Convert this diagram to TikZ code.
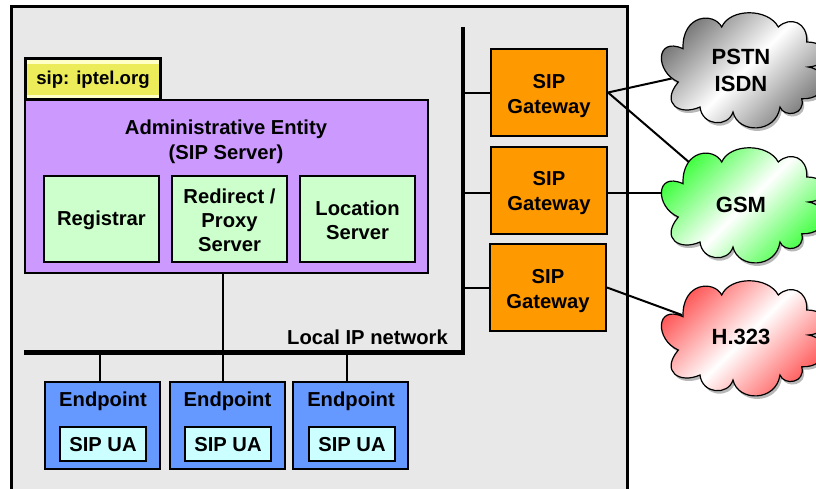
\documentclass[tikz,border=0pt]{standalone}
\usepackage{fontspec}
\setmainfont{Liberation Sans}
\definecolor{panelgrey}{HTML}{E8E8E8}
\definecolor{tagyellow}{HTML}{ECEC5A}
\definecolor{taglight}{HTML}{FFFFC8}
\definecolor{entitypurple}{HTML}{CC99FF}
\definecolor{servergreen}{HTML}{CCFFCC}
\definecolor{gatewayorange}{HTML}{FF9900}
\definecolor{endpointblue}{HTML}{6699FF}
\definecolor{uacyan}{HTML}{CCFFFF}
\definecolor{cloudgrey}{HTML}{707070}
\definecolor{cloudgreen}{HTML}{33FF33}
\definecolor{cloudred}{HTML}{FF4D4D}
\newcommand{\labelfont}{\fontsize{20.2}{24}\selectfont\bfseries}
\newcommand{\cloudoutline}{(683,48.7)
    .. controls (682,14) and (714,12) .. (721.7,27)
    .. controls (730,8) and (768,8) .. (778.3,27)
    .. controls (790,16) and (808,22) .. (806.7,42)
    .. controls (832,42) and (830,66) .. (808.3,67)
    .. controls (830,70) and (830,100) .. (801.7,98.7)
    .. controls (806,115) and (784,118) .. (780,107)
    .. controls (776,134) and (738,134) .. (733,112)
    .. controls (728,128) and (702,126) .. (700,107)
    .. controls (680,116) and (660,104) .. (678.3,82)
    .. controls (655,72) and (655,36) .. (683,48.7) -- cycle}
\tikzset{
    serverbox/.style={draw, line width=2pt, fill=servergreen, minimum width=115pt, minimum height=86pt, inner sep=0pt},
    gatewaybox/.style={draw, line width=2pt, fill=gatewayorange, minimum width=116pt, minimum height=87pt, inner sep=0pt},
    endpointbox/.style={draw, line width=2pt, fill=endpointblue, minimum width=115pt, minimum height=87pt, inner sep=0pt},
    uabox/.style={draw, line width=2pt, fill=uacyan, minimum width=86pt, minimum height=34pt, inner sep=0pt},
    plaintext/.style={inner sep=0pt, align=center, font=\labelfont},
    gatewaytext/.style={inner sep=0pt, align=center, font=\fontsize{20.2}{25}\selectfont\bfseries},
    cloudtext/.style={inner sep=0pt, align=center, font=\fontsize{22}{27}\selectfont\bfseries},
    cloudshadow/.style={fill=black!28, draw=none},
    cloudline/.style={draw, line width=1.2pt, shading angle=45},
    link/.style={line width=2pt},
    bus/.style={line width=4.5pt}
}
\begin{document}
\begin{tikzpicture}[x=1pt, y=-1pt]

    \clip (0, 0) rectangle (816, 488);
    \fill[white] (0, 0) rectangle (816, 488);

    % domain panel
    \draw[line width=3pt, fill=panelgrey] (11, 6) rectangle (627.5, 500);

    % tag and server
    \node[draw, line width=3pt, fill=taglight, minimum width=135pt, minimum height=41pt, inner sep=0pt] (tag) at (92.5, 78.5) {};
    \node[fill=tagyellow, minimum width=132pt, minimum height=31pt, inner sep=0pt] (tagband) at (92.5, 79) {};
    \node[inner sep=0pt, font=\fontsize{18.6}{22}\selectfont\bfseries] (taglabel) at (93, 80) {sip: iptel.org};
    \node[draw, line width=2pt, fill=entitypurple, minimum width=403pt, minimum height=173pt, inner sep=0pt] (entity) at (226.5, 186.5) {};
    \node[plaintext, font=\fontsize{20.2}{25}\selectfont\bfseries] (entitylabel) at (226, 142) {Administrative Entity\\(SIP Server)};
    \node[serverbox] (registrar) at (101.5, 219) {};
    \node[serverbox] (proxy) at (229.5, 219) {};
    \node[serverbox] (location) at (357.5, 219) {};
    \node[plaintext] (registrarlabel) at (101.5, 220) {Registrar};
    \node[plaintext] (proxylabel) at (229.5, 220) {Redirect /\\Proxy\\Server};
    \node[plaintext] (locationlabel) at (357.5, 220) {Location\\Server};

    % network lines
    \coordinate (lanleft) at (24, 352.5);
    \coordinate (lanright) at (465, 352.5);
    \coordinate (trunktop) at (463, 27);
    \coordinate (tapone) at (100, 352.5);
    \coordinate (taptwo) at (223, 352.5);
    \coordinate (tapthree) at (347, 352.5);
    \node[plaintext] (lanlabel) at (367.5, 337) {Local IP network};

    % endpoints
    \node[endpointbox] (epone) at (102.5, 425.5) {};
    \node[endpointbox] (eptwo) at (227.5, 425.5) {};
    \node[endpointbox] (epthree) at (350.5, 425.5) {};
    \node[plaintext] (eponelabel) at (103, 401) {Endpoint};
    \node[plaintext] (eptwolabel) at (227.5, 401) {Endpoint};
    \node[plaintext] (epthreelabel) at (351, 401) {Endpoint};
    \node[uabox] (uaone) at (103, 444) {};
    \node[uabox] (uatwo) at (228, 444) {};
    \node[uabox] (uathree) at (352, 444) {};
    \node[plaintext] (uaonelabel) at (103, 444.5) {SIP UA};
    \node[plaintext] (uatwolabel) at (228, 444.5) {SIP UA};
    \node[plaintext] (uathreelabel) at (352, 444.5) {SIP UA};

    \draw[link] (tapone) -- (tapone |- epone.north);
    \draw[link] (taptwo |- entity.south) -- (taptwo |- eptwo.north);
    \draw[link] (tapthree) -- (tapthree |- epthree.north);
    \draw[bus] (lanleft) -- (lanright);
    \draw[bus] (trunktop) -- (trunktop |- lanright);

    % gateways
    \node[gatewaybox] (gwone) at (549, 92.5) {};
    \node[gatewaybox] (gwtwo) at (549, 190) {};
    \node[gatewaybox] (gwthree) at (548, 287.5) {};
    \node[gatewaytext] (gwonelabel) at (549, 96) {SIP\\Gateway};
    \node[gatewaytext] (gwtwolabel) at (549, 193) {SIP\\Gateway};
    \node[gatewaytext] (gwthreelabel) at (548, 291.5) {SIP\\Gateway};

    \coordinate (pstnport) at (674, 78);
    \coordinate (gsmportup) at (690, 163);
    \coordinate (gsmportleft) at (662, 193);
    \coordinate (hportleft) at (682, 315);
    \draw[link] (gwone.west -| trunktop) -- (gwone.west);
    \draw[link] (gsmportleft -| trunktop) -- (gsmportleft -| gwtwo.west);
    \draw[link] (gwthree.west -| trunktop) -- (gwthree.west);
    \draw[link] (gwone.east) -- (pstnport);
    \draw[link] (gwone.east) -- (gsmportup);
    \draw[link] (gsmportleft -| gwtwo.east) -- (gsmportleft);
    \draw[link] (gwthree.east) -- (hportleft);

    % clouds
    \fill[cloudshadow, shift={(2, 3)}] \cloudoutline;
    \draw[cloudline, top color=cloudgrey, bottom color=cloudgrey, middle color=white, shading angle=45] \cloudoutline;
    \node[cloudtext] (pstn) at (741, 70) {PSTN\\ISDN};

    \fill[cloudshadow, shift={(2, 138)}] \cloudoutline;
    \draw[cloudline, shift={(0, 135)}, top color=cloudgreen, bottom color=cloudgreen, middle color=white, shading angle=45] \cloudoutline;
    \node[cloudtext] (gsm) at (741, 204.5) {GSM};

    \fill[cloudshadow, shift={(2, 271)}] \cloudoutline;
    \draw[cloudline, shift={(0, 268)}, top color=cloudred, bottom color=cloudred, middle color=white, shading angle=45] \cloudoutline;
    \node[cloudtext] (hcloud) at (741, 337) {H.323};

\end{tikzpicture}
\end{document}
